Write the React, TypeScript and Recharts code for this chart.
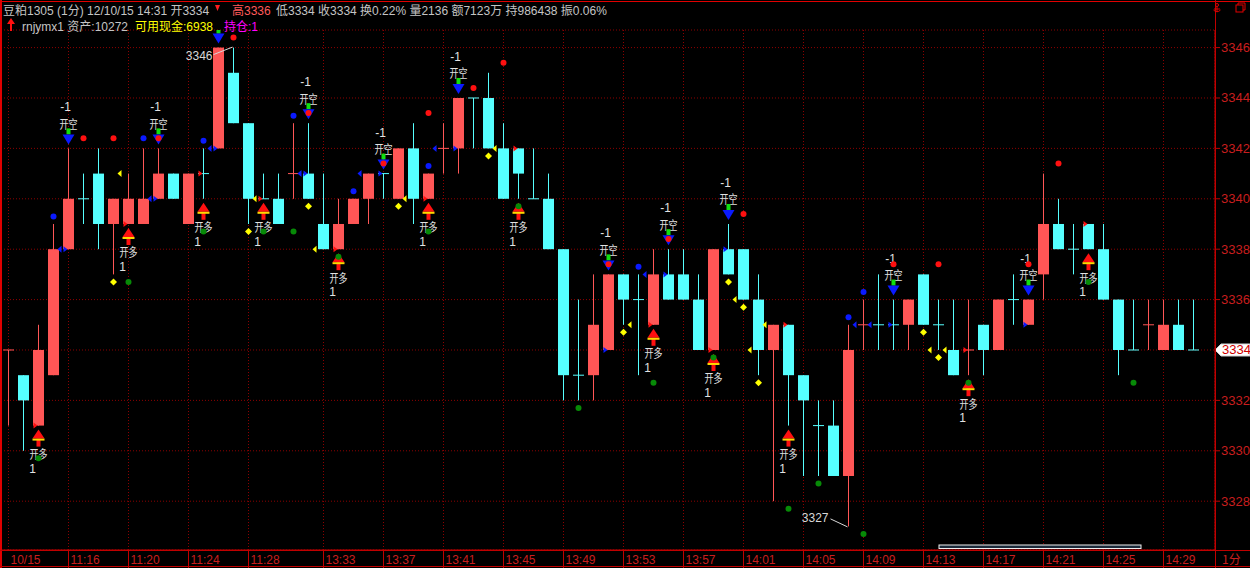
import React from 'react';
import { ComposedChart, Bar, Line, XAxis, YAxis, CartesianGrid } from 'recharts';

// 1-minute bars, 10/15 session
const times = [
  '11:12', '11:13', '11:14', '11:15', '11:16', '11:17', '11:18', '11:19', '11:20', '11:21',
  '11:22', '11:23', '11:24', '11:25', '11:26', '11:27', '11:28', '11:29', '11:30',
  '13:31', '13:32', '13:33', '13:34', '13:35', '13:36', '13:37', '13:38', '13:39', '13:40',
  '13:41', '13:42', '13:43', '13:44', '13:45', '13:46', '13:47', '13:48', '13:49', '13:50',
  '13:51', '13:52', '13:53', '13:54', '13:55', '13:56', '13:57', '13:58', '13:59', '14:00',
  '14:01', '14:02', '14:03', '14:04', '14:05', '14:06', '14:07', '14:08', '14:09', '14:10',
  '14:11', '14:12', '14:13', '14:14', '14:15', '14:16', '14:17', '14:18', '14:19', '14:20',
  '14:21', '14:22', '14:23', '14:24', '14:25', '14:26', '14:27', '14:28', '14:29', '14:30', '14:31',
];

const openPx = [
  3334, 3333, 3331, 3333, 3338, 3340, 3341, 3339, 3339, 3339,
  3340, 3341, 3339, 3341, 3342, 3345, 3343, 3340, 3340, 3341,
  3341, 3339, 3338, 3339, 3340, 3341, 3340, 3342, 3340, 3342,
  3342, 3344, 3344, 3342, 3342, 3340, 3340, 3338, 3333, 3333,
  3334, 3337, 3336, 3335, 3337, 3337, 3336, 3334, 3338, 3338,
  3336, 3334, 3335, 3333, 3331, 3331, 3329, 3335, 3335, 3335,
  3335, 3337, 3335, 3334, 3334, 3335, 3334, 3336, 3335, 3337,
  3339, 3338, 3339, 3338, 3336, 3334, 3335, 3334, 3335, 3334,
];
const highPx = [
  3334, 3333, 3335, 3339, 3342, 3341, 3342, 3340, 3341, 3342,
  3342, 3341, 3341, 3342, 3346, 3346, 3343, 3341, 3341, 3343,
  3343, 3341, 3340, 3340, 3341, 3341, 3342, 3343, 3341, 3343,
  3344, 3344, 3345, 3343, 3342, 3342, 3341, 3338, 3336, 3337,
  3337, 3337, 3337, 3338, 3338, 3338, 3337, 3338, 3339, 3338,
  3337, 3335, 3335, 3333, 3332, 3332, 3335, 3336, 3337, 3336,
  3336, 3337, 3336, 3336, 3336, 3335, 3336, 3337, 3336, 3341,
  3340, 3339, 3339, 3339, 3336, 3336, 3336, 3336, 3336, 3336,
];
const lowPx = [
  3331, 3330, 3331, 3333, 3338, 3339, 3338, 3337, 3339, 3339,
  3340, 3340, 3339, 3340, 3342, 3343, 3339, 3340, 3339, 3340,
  3340, 3338, 3338, 3339, 3339, 3340, 3340, 3339, 3340, 3341,
  3341, 3342, 3342, 3340, 3340, 3340, 3338, 3332, 3332, 3332,
  3334, 3335, 3333, 3335, 3336, 3336, 3334, 3334, 3337, 3336,
  3333, 3328, 3331, 3329, 3329, 3329, 3327, 3334, 3334, 3334,
  3334, 3335, 3334, 3333, 3333, 3333, 3334, 3335, 3335, 3336,
  3338, 3337, 3338, 3336, 3333, 3334, 3334, 3334, 3334, 3334,
];
const closePx = [
  3334, 3332, 3334, 3338, 3340, 3340, 3339, 3340, 3340, 3340,
  3341, 3340, 3341, 3341, 3346, 3343, 3340, 3340, 3339, 3341,
  3340, 3338, 3339, 3340, 3341, 3341, 3342, 3340, 3341, 3342,
  3344, 3344, 3342, 3340, 3341, 3340, 3338, 3333, 3333, 3335,
  3337, 3336, 3336, 3337, 3336, 3336, 3334, 3338, 3337, 3336,
  3334, 3335, 3333, 3332, 3331, 3329, 3334, 3335, 3335, 3335,
  3336, 3335, 3335, 3333, 3334, 3334, 3336, 3336, 3336, 3339,
  3338, 3338, 3338, 3336, 3334, 3334, 3335, 3335, 3334, 3334,
];

// doji bars drawn in red instead of cyan
const redDojiIdx = [0, 19, 29, 57, 64, 76];

// trade signals (bar index)
const sellIdx = [4, 10, 14, 20, 25, 30, 40, 44, 48, 59, 68];
const buyIdx = [2, 8, 13, 17, 22, 28, 34, 43, 47, 52, 64, 72];

// indicator marks: [bar index, price]
const redDots: [number, number][] = [[5, 3342.4], [7, 3342.4], [10, 3342.4], [15, 3346.4], [20, 3343.4], [25, 3341.4], [28, 3343.4], [31, 3344.4], [33, 3345.4], [40, 3337.4], [44, 3338.4], [49, 3339.4], [59, 3337.4], [62, 3337.4], [68, 3337.4], [70, 3341.4]];
const blueDots: [number, number][] = [[3, 3339.3], [9, 3342.4], [13, 3342.3], [19, 3343.3], [23, 3340.3], [28, 3341.3], [42, 3337.3], [56, 3335.3], [57, 3336.3]];
const greenDots: [number, number][] = [[2, 3329.7], [8, 3336.7], [13, 3338.7], [17, 3338.7], [19, 3338.7], [22, 3337.7], [28, 3338.7], [34, 3339.7], [38, 3331.7], [43, 3332.7], [47, 3333.7], [52, 3327.7], [54, 3328.7], [57, 3326.7], [64, 3332.7], [72, 3336.7], [75, 3332.7]];
const yellowDiamonds: [number, number][] = [[7, 3336.7], [16, 3338.7], [20, 3339.7], [26, 3339.7], [32, 3341.7], [41, 3334.7], [48, 3336.7], [49, 3335.7], [50, 3332.7], [61, 3334.7], [62, 3333.7]];
const yellowFlags: [number, number][] = [[8, 3341], [17, 3340], [21, 3338], [27, 3340], [33, 3342], [42, 3335], [49, 3336], [50, 3334], [51, 3335], [62, 3334], [63, 3334]];
const blueFlags: [number, number][] = [[4, 3338], [10, 3340], [14, 3342], [20, 3341], [24, 3341], [29, 3342], [43, 3337], [57, 3335], [58, 3335]];

const highMark: [number, number] = [14, 3346];
const lowMark: [number, number] = [56, 3327];

const xTicks = ['11:12', '11:16', '11:20', '11:24', '11:28', '13:33', '13:37', '13:41', '13:45', '13:49', '13:53', '13:57', '14:01', '14:05', '14:09', '14:13', '14:17', '14:21', '14:25', '14:29'];
const dateLabel = '10/15';
const yTicks = [3328, 3330, 3332, 3334, 3336, 3338, 3340, 3342, 3344, 3346];

const Y_MIN = 3326.063;
const Y_MAX = 3346.698;
const PLOT_TOP = 30;

const RED = '#ff5656';
const CYAN = '#56ffff';
const GRID = '#8c0000';
const AXIS = '#c00000';
const LABEL = '#c81e1e';
const TXT = '#e2e2e2';

const pick = (list: [number, number][], i: number) => {
  const f = list.find((p) => p[0] === i);
  return f ? f[1] : null;
};

const lastClose = closePx[closePx.length - 1];

const data = times.map((t, i) => {
  const sell = sellIdx.includes(i);
  const buy = buyIdx.includes(i);
  return {
    t,
    o: openPx[i],
    h: highPx[i],
    l: lowPx[i],
    c: closePx[i],
    redDoji: redDojiIdx.includes(i),
    sell,
    sellAt: sell ? highPx[i] : null,
    buyAt: buy ? lowPx[i] : null,
    sigOpen: sell || buy ? openPx[i] : null,
    redDot: pick(redDots, i),
    blueDot: pick(blueDots, i),
    greenDot: pick(greenDots, i),
    yDia: pick(yellowDiamonds, i),
    yFlag: pick(yellowFlags, i),
    bFlag: pick(blueFlags, i),
    hiMark: i === highMark[0] ? highMark[1] : null,
    loMark: i === lowMark[0] ? lowMark[1] : null,
  };
});

const Candle = (props: any) => {
  const { x, y, width, height, payload } = props;
  const { o, h, l, c } = payload;
  const top = Math.min(y, y + height);
  const span = Math.abs(height);
  const k = h > l ? span / (h - l) : 0;
  const py = (v: number) => top + (h - v) * k;
  const up = c > o || (c === o && payload.redDoji);
  const col = up ? RED : CYAN;
  const cx = x + width / 2;
  const bt = py(Math.max(o, c));
  const bb = py(Math.min(o, c));
  return (
    <g>
      <line x1={cx} x2={cx} y1={py(h)} y2={py(l)} stroke={col} strokeWidth={1} />
      {o === c ? (
        <line x1={x} x2={x + width} y1={bt} y2={bt} stroke={col} strokeWidth={1} />
      ) : (
        <rect x={x} y={bt} width={width} height={bb - bt} fill={col} />
      )}
    </g>
  );
};

const makeDot = (draw: (cx: number, cy: number, p: any) => React.ReactNode) => (props: any) => {
  const { cx, cy, index, value } = props;
  if (value == null || cy == null || Number.isNaN(cy)) return <g key={`n${index}`} />;
  return <g key={`d${index}`}>{draw(cx, cy, props.payload)}</g>;
};

// texts that would sit above the plot are cut off, as in the terminal
const sellDot = makeDot((cx, cy) => (
  <>
    {cy - 47 > PLOT_TOP && (
      <text x={cx - 3} y={cy - 41} fill={TXT} fontSize={12} fontFamily="Liberation Sans" textAnchor="middle" dominantBaseline="central">-1</text>
    )}
    {cy - 31 > PLOT_TOP && (
      <text x={cx} y={cy - 25} fill={TXT} fontSize={12} fontFamily="Noto Sans CJK SC" textAnchor="middle" dominantBaseline="central" textLength={18} lengthAdjust="spacingAndGlyphs">开空</text>
    )}
    <rect x={cx - 2} y={cy - 20} width={4} height={6} fill="#10e010" />
    <polygon points={`${cx - 6},${cy - 14} ${cx + 6},${cy - 14} ${cx},${cy - 4}`} fill="#0a1aff" />
  </>
));

const buyDot = makeDot((cx, cy) => (
  <>
    <polygon points={`${cx},${cy + 4} ${cx - 6},${cy + 13} ${cx + 6},${cy + 13}`} fill="#ff1010" />
    <rect x={cx - 2} y={cy + 13} width={4} height={8} fill="#ff1010" />
    <rect x={cx - 6} y={cy + 13} width={12} height={2} fill="#ffd800" />
    <text x={cx} y={cy + 28} fill={TXT} fontSize={12} fontFamily="Noto Sans CJK SC" textAnchor="middle" dominantBaseline="central" textLength={18} lengthAdjust="spacingAndGlyphs">开多</text>
    <text x={cx - 6} y={cy + 43} fill={TXT} fontSize={12} fontFamily="Liberation Sans" textAnchor="middle" dominantBaseline="central">1</text>
  </>
));

const openDot = makeDot((cx, cy, p) => (
  <polygon points={`${cx - 5},${cy - 3} ${cx - 5},${cy + 3} ${cx - 1},${cy}`} fill={p.sell ? '#0a1aff' : '#ff1010'} />
));

const circleDot = (fill: string) => makeDot((cx, cy) => <circle cx={cx} cy={cy} r={3} fill={fill} />);

const diamondDot = makeDot((cx, cy) => (
  <polygon points={`${cx},${cy - 3.5} ${cx + 3.5},${cy} ${cx},${cy + 3.5} ${cx - 3.5},${cy}`} fill="#ffff00" />
));

const flagDot = (fill: string) => makeDot((cx, cy) => (
  <polygon points={`${cx - 11},${cy} ${cx - 7},${cy - 3.5} ${cx - 7},${cy + 3.5}`} fill={fill} />
));

const hiDot = makeDot((cx, cy, p) => (
  <>
    <text x={cx - 6} y={cy + 8} fill="#d8d8d8" fontSize={12} fontFamily="Liberation Sans" textAnchor="end" dominantBaseline="central">{p.hiMark}</text>
    <line x1={cx - 5} y1={cy + 7} x2={cx + 14} y2={cy - 0.5} stroke="#d8d8d8" />
  </>
));

const loDot = makeDot((cx, cy, p) => (
  <>
    <text x={cx - 20} y={cy - 8} fill="#d8d8d8" fontSize={12} fontFamily="Liberation Sans" textAnchor="end" dominantBaseline="central">{p.loMark}</text>
    <line x1={cx - 18} y1={cy - 7.5} x2={cx - 1} y2={cy + 0.5} stroke="#d8d8d8" />
  </>
));

const TimeTick = (props: any) => {
  const { x, payload } = props;
  const first = payload.value === times[0];
  return (
    <g>
      {!first && <line x1={x} x2={x} y1={550} y2={568} stroke={AXIS} />}
      <text x={x + 2} y={564} fill={LABEL} fontSize={12} fontFamily="Liberation Sans">
        {first ? dateLabel : payload.value}
      </text>
    </g>
  );
};

const PriceTick = (props: any) => {
  const { y, payload } = props;
  const v = payload.value;
  if (v === lastClose) {
    return (
      <g>
        <polygon points={`1215,${y} 1221,${y - 6} 1250,${y - 6} 1250,${y + 6} 1221,${y + 6}`} fill="#ffffff" stroke="#d0d0d0" />
        <text x={1222} y={y} fill="#d00000" fontSize={13} fontFamily="Liberation Sans" dominantBaseline="central">{v}</text>
      </g>
    );
  }
  return (
    <g>
      <line x1={1215} x2={1220} y1={y} y2={y} stroke={AXIS} />
      <text x={1221} y={y} fill={LABEL} fontSize={13} fontFamily="Liberation Sans" dominantBaseline="central">{v}</text>
    </g>
  );
};

const lineProps = {
  stroke: 'none',
  isAnimationActive: false,
  activeDot: false,
  legendType: 'none' as const,
};

const hdr: React.CSSProperties = {
  position: 'absolute',
  fontSize: 12,
  lineHeight: '14px',
  fontFamily: '"Liberation Sans", "Noto Sans CJK SC", sans-serif',
  whiteSpace: 'nowrap',
};

export default function App() {
  return (
    <div style={{ position: 'relative', width: 1250, height: 568, background: '#000', overflow: 'hidden' }}>
      <style>{'body{margin:0;background:#000}'}</style>
      <ComposedChart width={1250} height={568} data={data} margin={{ top: PLOT_TOP, right: 0, bottom: 0, left: 1 }}>
        <CartesianGrid stroke={GRID} strokeDasharray="1 2" />
        <XAxis
          dataKey="t"
          ticks={xTicks}
          interval={0}
          height={18}
          tickLine={false}
          tickSize={0}
          axisLine={{ stroke: AXIS }}
          tick={TimeTick}
          padding={{ left: 0, right: 14 }}
        />
        <YAxis
          orientation="right"
          width={35}
          domain={[Y_MIN, Y_MAX]}
          ticks={yTicks}
          allowDataOverflow
          tickLine={false}
          tickSize={0}
          axisLine={{ stroke: AXIS }}
          tick={PriceTick}
        />
        <Bar dataKey={(d: any) => [d.l, d.h]} barSize={11} shape={Candle} isAnimationActive={false} />
        <Line dataKey="sellAt" {...lineProps} dot={sellDot} />
        <Line dataKey="buyAt" {...lineProps} dot={buyDot} />
        <Line dataKey="sigOpen" {...lineProps} dot={openDot} />
        <Line dataKey="yFlag" {...lineProps} dot={flagDot('#ffff00')} />
        <Line dataKey="bFlag" {...lineProps} dot={flagDot('#0a1aff')} />
        <Line dataKey="yDia" {...lineProps} dot={diamondDot} />
        <Line dataKey="redDot" {...lineProps} dot={circleDot('#ff1010')} />
        <Line dataKey="blueDot" {...lineProps} dot={circleDot('#0a1aff')} />
        <Line dataKey="greenDot" {...lineProps} dot={circleDot('#078a07')} />
        <Line dataKey="hiMark" {...lineProps} dot={hiDot} />
        <Line dataKey="loMark" {...lineProps} dot={loDot} />
      </ComposedChart>

      <svg width={1250} height={568} style={{ position: 'absolute', left: 0, top: 0, pointerEvents: 'none' }}>
        <line x1={0} x2={1250} y1={1.5} y2={1.5} stroke="#e00000" />
        <line x1={1} x2={1} y1={0} y2={568} stroke="#e00000" strokeWidth={2} />
        <line x1={0} x2={1250} y1={550.5} y2={550.5} stroke={AXIS} />
        <line x1={0} x2={1250} y1={566.5} y2={566.5} stroke={AXIS} />
        <line x1={1215.5} x2={1215.5} y1={0} y2={568} stroke={AXIS} />
        <text x={1222} y={564} fill={LABEL} fontSize={12} fontFamily="Noto Sans CJK SC">1分</text>
        <rect x={939} y={545} width={202} height={3.5} fill="#1a2a3a" stroke="#f0f0f0" />
        {/* header glyphs */}
        <polygon points="215,5 220,5 217.5,11" fill="#ff2020" />
        <polygon points="11,18 7,24 15,24" fill="#ff1010" />
        <rect x={10} y={24} width={2} height={7} fill="#ff1010" />
        {/* window icons */}
        <circle cx={1217} cy={5} r={1.5} fill="none" stroke="#e00000" />
        <path d="M1217 6.5 V12 M1214 9 H1220 M1213.5 10 Q1217 13.5 1220.5 10" stroke="#e00000" fill="none" />
        <rect x={1236} y={5} width={7} height={7} fill="none" stroke="#e00000" />
        <path d="M1238 5 V3 H1245 V10 H1243" stroke="#e00000" fill="none" />
      </svg>

      <div style={{ ...hdr, left: 3, top: 4, color: '#c4c4c4' }}>豆粕1305 (1分) 12/10/15 14:31 开3334</div>
      <div style={{ ...hdr, left: 232, top: 4, color: '#ff5a5a' }}>高3336</div>
      <div style={{ ...hdr, left: 276, top: 4, color: '#c4c4c4' }}>低3334 收3334 换0.22% 量2136 额7123万 持986438 振0.06%</div>
      <div style={{ ...hdr, left: 22, top: 20, color: '#c4c4c4' }}>rnjymx1 资产:10272</div>
      <div style={{ ...hdr, left: 135, top: 20, color: '#ffff00' }}>可用现金:6938</div>
      <div style={{ ...hdr, left: 224, top: 20, color: '#ff00ff' }}>持仓:1</div>
    </div>
  );
}
